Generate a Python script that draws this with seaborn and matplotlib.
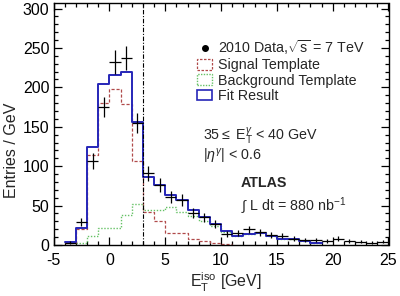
import numpy as np
import pandas as pd
import matplotlib
matplotlib.use("Agg")
import matplotlib.pyplot as plt
import seaborn as sns
from matplotlib.lines import Line2D
from matplotlib.patches import Rectangle
from matplotlib.ticker import MultipleLocator

# ---- data (Entries / GeV, 1 GeV bins) ----
fit_lo = list(range(-4, 19))
fit_vals = [4, 21, 124, 204, 216, 219, 156, 86, 76, 63, 57, 45, 35, 27, 18, 12, 14, 15, 11, 8, 7, 5, 3]

sig_lo = list(range(-4, 11))
sig_vals = [3, 20, 114, 180, 198, 179, 106, 42, 31, 15, 15, 8, 5, 3, 1]

bkg_lo = list(range(-3, 19))
bkg_vals = [2, 11, 21, 21, 38, 52, 44, 45, 48, 42, 37, 30, 24, 17, 12, 14, 15, 11, 8, 7, 5, 3]

data_x = [-3.5, -2.5, -1.5, -0.5, 0.5, 1.5, 2.5, 3.5, 4.5, 5.5, 6.5, 7.5, 8.5, 9.5, 10.5,
          11.5, 12.5, 13.5, 14.5, 15.5, 16.5, 17.5, 18.5, 19.5, 20.5, 21.5, 22.5, 23.5, 24.5]
data_y = [3, 29, 107, 175, 232, 237, 155, 91, 76, 61, 57, 40, 35, 27, 14,
          15, 20, 16, 13, 12, 8, 6, 6, 5, 8, 5, 4, 3, 4]

iso_cut = 3

sns.set_theme(style="ticks")
plt.rcParams["font.family"] = ["Liberation Sans", "DejaVu Sans"]
plt.rcParams["mathtext.fontset"] = "custom"
plt.rcParams["mathtext.rm"] = "Liberation Sans"
plt.rcParams["mathtext.it"] = "Liberation Sans:italic"
plt.rcParams["mathtext.bf"] = "Liberation Sans:bold"
plt.rcParams["axes.unicode_minus"] = False

fig = plt.figure(figsize=(4.0, 2.96), dpi=100)
ax = fig.add_axes([53.5 / 400, 1 - 245 / 296, 335 / 400, 242 / 296])

def step_hist(lo, vals, **kw):
    df = pd.DataFrame({"x": [v + 0.5 for v in lo], "w": vals})
    edges = list(lo) + [lo[-1] + 1]
    sns.histplot(data=df, x="x", weights="w", bins=edges, element="step",
                 fill=False, ax=ax, **kw)

c_sig = "#b04a4a"
c_bkg = "#66c266"
c_fit = "#2626b8"

step_hist(bkg_lo, bkg_vals, color=c_bkg, linestyle=(0, (1, 1.2)), linewidth=1.0)
step_hist(sig_lo, sig_vals, color=c_sig, linestyle=(0, (2.5, 1.5)), linewidth=0.9)
step_hist(fit_lo, fit_vals, color=c_fit, linestyle="-", linewidth=1.4)

ax.errorbar(data_x, data_y, xerr=0.5, yerr=np.sqrt(data_y), fmt="none",
            ecolor="black", elinewidth=0.9, capsize=0, zorder=5)

ax.axvline(iso_cut, color="black", linestyle=(0, (4, 1.5, 1, 1.5)), linewidth=0.8)

ax.set_xlim(-5, 25)
ax.set_ylim(0, 307)
ax.xaxis.set_major_locator(MultipleLocator(5))
ax.xaxis.set_minor_locator(MultipleLocator(1))
ax.yaxis.set_major_locator(MultipleLocator(50))
ax.yaxis.set_minor_locator(MultipleLocator(10))
ax.tick_params(which="both", direction="in", top=True, right=True, color="black",
               width=0.9, labelsize=11.5, labelcolor="black", pad=3)
ax.tick_params(axis="x", which="both", pad=6)
ax.tick_params(which="major", length=6)
ax.tick_params(which="minor", length=3)
for s in ax.spines.values():
    s.set_color("black")
    s.set_linewidth(1.0)

ax.set_xlabel(r"$\mathrm{E}_{\mathrm{T}}^{\mathrm{iso}}$ [GeV]", fontsize=11.5)
ax.set_ylabel("Entries / GeV", fontsize=11.5)
ax.xaxis.set_label_coords(0.515, -0.105)
ax.yaxis.set_label_coords(-0.103, 0.39)

handles = [
    Line2D([], [], marker="o", color="black", linestyle="none", markersize=4.0),
    Rectangle((0, 0), 1, 1, facecolor="none", edgecolor=c_sig, linestyle=(0, (2, 1.2)), linewidth=0.9),
    Rectangle((0, 0), 1, 1, facecolor="none", edgecolor=c_bkg, linestyle=(0, (1, 1)), linewidth=1.0),
    Rectangle((0, 0), 1, 1, facecolor="none", edgecolor=c_fit, linestyle="-", linewidth=1.2),
]
labels = [r"2010 Data,$\sqrt{\mathrm{s}}$ = 7 TeV", "Signal Template",
          "Background Template", "Fit Result"]
leg = ax.legend(handles, labels, loc="upper left", frameon=False, fontsize=10.3,
                bbox_to_anchor=(197 / 400, 1 - 38 / 296), bbox_transform=fig.transFigure,
                handlelength=1.05, handleheight=0.75, handletextpad=0.45,
                labelspacing=0.1, borderpad=0, borderaxespad=0)

fig.text(203 / 400, 1 - 136 / 296, r"35$\leq$ $\mathrm{E}_{\mathrm{T}}^{\gamma}$ < 40 GeV",
         fontsize=10.3, va="center", ha="left")
fig.text(203 / 400, 1 - 157 / 296, r"|$\eta^{\gamma}$| < 0.6",
         fontsize=10.3, va="center", ha="left")
fig.text(241 / 400, 1 - 183 / 296, "ATLAS", fontsize=10.3, fontweight="bold",
         va="center", ha="left")
fig.text(241 / 400, 1 - 206 / 296, r"$\int$ L dt = 880 nb$^{\mathrm{-1}}$",
         fontsize=10.3, va="center", ha="left")

fig.savefig("out.png", dpi=100, facecolor="white")
